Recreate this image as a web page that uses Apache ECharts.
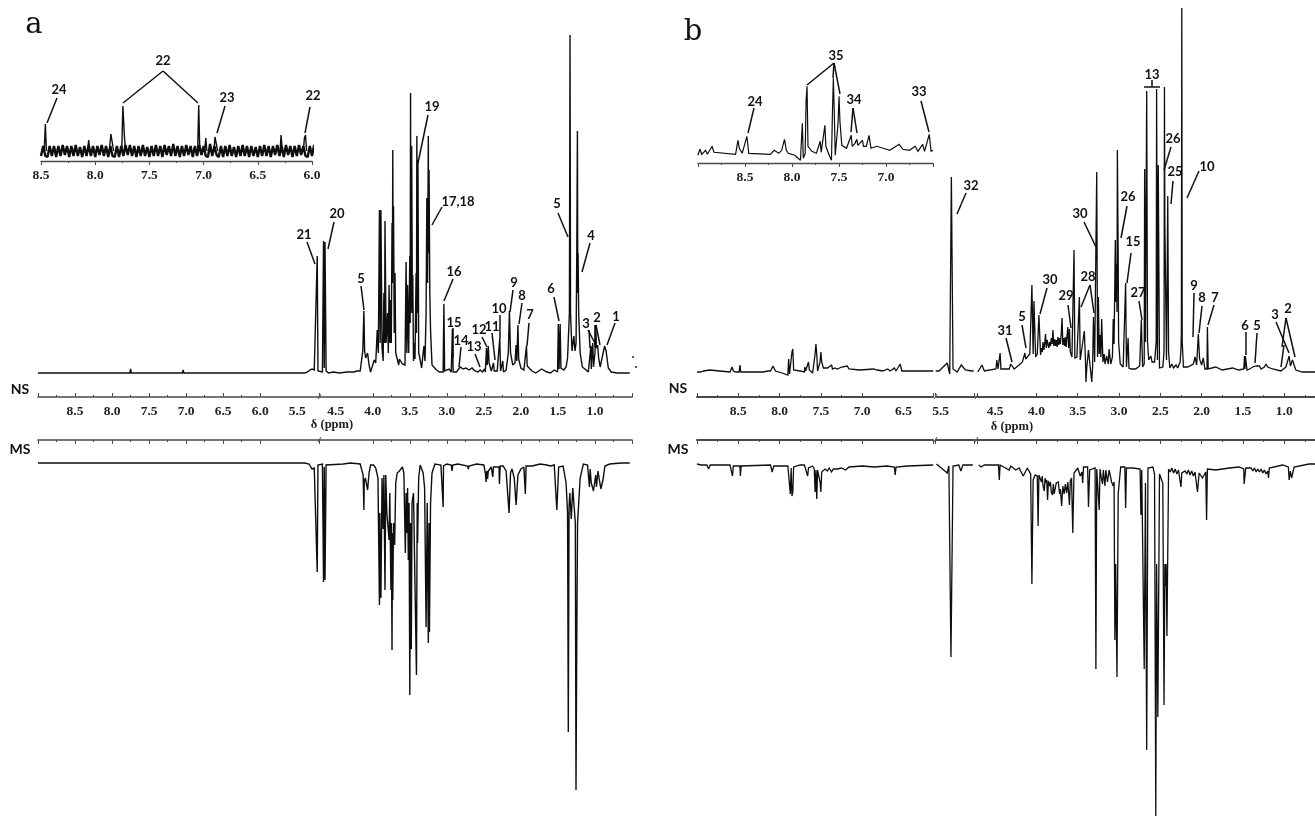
<!DOCTYPE html>
<html><head><meta charset="utf-8">
<style>html,body{margin:0;padding:0;background:#fff;overflow:hidden;width:1315px;height:817px}#c{width:1340px;height:817px}</style>
<script src="https://cdn.jsdelivr.net/npm/echarts@6/dist/echarts.min.js"></script>
</head><body><div id="c"></div>
<script>
// Tick labels (ppm)
const mainTicks=[8.5,8,7.5,7,6.5,6,5.5,4.5,4,3.5,3,2.5,2,1.5,1];
const mainTicksB=[8.5,8,7.5,7,6.5,5.5,4.5,4,3.5,3,2.5,2,1.5,1];
const insetTicksA=[8.5,8,7.5,7,6.5,6];
const insetTicksB=[8.5,8,7.5,7];
const G=NaN;
// Panel a, normal serum (NS): [ppm, intensity]
const aNS=[[9,0],[8.7,0],[8.51,0],[8.5,1],[8.49,0],[8.2,0],[7.76,0],[7.75,4],[7.74,0],[7.36,0],[7.05,0],[7.04,3],[7.03,0],[6.5,0],[6,0],[5.6,0],[5.4,0],[5.36,1],[5.33,3],[5.3,4],[5.27,3],[5.245,3],[5.23,117],[5.22,2],[5.2,1],[4.72,1],[4.68,1],[4.665,132],[4.655,5],[4.645,131],[4.63,2],[4.6,0],[4.53,1],[4.45,0],[4.35,1],[4.25,1],[4.24,3],[4.22,2],[4.2,1],[4.17,2],[4.135,22],[4.12,62],[4.11,22],[4.095,15],[4.07,20],[4.05,8],[4.03,1],[3.98,13],[3.96,10],[3.94,43],[3.925,20],[3.91,163],[3.9,30],[3.89,163],[3.875,25],[3.86,12],[3.85,80],[3.84,30],[3.835,152],[3.82,30],[3.8,60],[3.79,20],[3.78,88],[3.77,30],[3.76,73],[3.75,30],[3.74,150],[3.735,90],[3.73,223],[3.725,100],[3.72,167],[3.71,40],[3.7,100],[3.69,20],[3.67,18],[3.65,8],[3.64,14],[3.62,13],[3.6,9],[3.58,10],[3.565,8],[3.55,111],[3.54,20],[3.53,88],[3.515,20],[3.5,117],[3.495,50],[3.49,280],[3.485,60],[3.475,227],[3.465,60],[3.46,98],[3.45,12],[3.44,30],[3.43,14],[3.415,100],[3.41,40],[3.405,237],[3.395,60],[3.39,213],[3.38,20],[3.37,17],[3.34,5],[3.31,27],[3.295,12],[3.28,60],[3.27,175],[3.26,90],[3.25,237],[3.245,120],[3.24,203],[3.23,80],[3.22,43],[3.2,8],[3.18,6],[3.14,3],[3.1,1],[3.05,1],[3.04,69],[3.03,2],[2.97,4],[2.94,1],[2.925,44],[2.915,1],[2.87,1],[2.82,6],[2.78,4],[2.74,5],[2.7,3],[2.66,5],[2.62,2],[2.58,1],[2.55,3],[2.52,1],[2.49,4],[2.48,1],[2.465,25],[2.455,8],[2.44,27],[2.43,10],[2.4,2],[2.37,10],[2.36,2],[2.32,2],[2.285,35],[2.275,2],[2.245,12],[2.235,1],[2.2,3],[2.17,20],[2.155,62],[2.14,20],[2.11,8],[2.08,10],[2.065,28],[2.055,12],[2.04,48],[2.03,14],[2,5],[1.96,3],[1.925,27],[1.915,7],[1.89,7],[1.85,2],[1.8,0],[1.72,4],[1.65,1],[1.6,0],[1.55,3],[1.505,1],[1.495,49],[1.485,4],[1.47,49],[1.46,5],[1.42,3],[1.39,6],[1.37,15],[1.345,60],[1.337,338],[1.33,60],[1.31,22],[1.285,37],[1.27,22],[1.255,30],[1.245,125],[1.237,242],[1.232,80],[1.228,120],[1.22,60],[1.2,20],[1.17,6],[1.12,3],[1.09,1],[1.065,2],[1.055,27],[1.05,4],[1.04,20],[1.03,30],[1.02,6],[1,20],[0.99,48],[0.98,25],[0.965,28],[0.95,15],[0.93,6],[0.89,20],[0.87,27],[0.85,22],[0.82,5],[0.78,1],[0.7,0],[0.53,0]];
// Panel a, malignant serum (MS)
const aMS=[[9,0],[8.51,0],[8.5,-2],[8.49,0],[7.76,0],[7.75,-2],[7.74,0],[7.05,0],[7.04,-2],[7.03,0],[6.3,0],[6.29,-1],[5.4,0],[5.34,-1],[5.3,-6],[5.27,-5],[5.245,-4],[5.23,-109],[5.22,-2],[5.2,-1],[4.72,-1],[4.68,-1],[4.665,-119],[4.655,-4],[4.645,-117],[4.63,-2],[4.4,-1],[4.3,0],[4.17,-1],[4.13,-12],[4.12,-47],[4.115,-18],[4.1,-15],[4.07,-27],[4.05,-10],[4.03,-2],[3.99,-2],[3.96,-5],[3.93,-15],[3.91,-142],[3.905,-50],[3.89,-135],[3.875,-15],[3.86,-66],[3.85,-12],[3.835,-127],[3.825,-12],[3.81,-50],[3.78,-77],[3.77,-30],[3.755,-127],[3.75,-60],[3.74,-187],[3.735,-70],[3.73,-137],[3.72,-60],[3.705,-82],[3.69,-20],[3.67,-10],[3.64,-8],[3.62,-6],[3.6,-4],[3.58,-10],[3.56,-90],[3.55,-30],[3.54,-70],[3.53,-25],[3.52,-97],[3.51,-40],[3.5,-232],[3.49,-60],[3.48,-186],[3.47,-40],[3.45,-30],[3.43,-30],[3.41,-212],[3.4,-40],[3.395,-80],[3.38,-15],[3.36,-2],[3.32,-10],[3.3,-25],[3.28,-164],[3.265,-40],[3.25,-180],[3.24,-60],[3.235,-169],[3.22,-40],[3.2,-10],[3.16,-1],[3.08,-2],[3.055,-3],[3.05,-44],[3.045,-3],[3,-1],[2.94,-2],[2.93,-8],[2.92,-2],[2.85,-1],[2.72,-3],[2.71,-6],[2.7,-3],[2.6,-1],[2.5,-2],[2.48,-10],[2.47,-19],[2.46,-8],[2.45,-16],[2.44,-8],[2.4,-4],[2.38,-14],[2.37,-4],[2.33,-4],[2.295,-4],[2.29,-21],[2.28,-3],[2.24,-3],[2.2,-8],[2.16,-50],[2.14,-10],[2.12,-6],[2.09,-15],[2.065,-42],[2.04,-12],[2,-6],[1.96,-4],[1.945,-3],[1.94,-31],[1.93,-3],[1.85,-3],[1.74,-1],[1.65,-2],[1.6,-3],[1.55,-2],[1.525,-3],[1.515,-47],[1.505,-47],[1.49,-4],[1.43,-3],[1.39,-20],[1.37,-50],[1.36,-269],[1.35,-45],[1.34,-30],[1.32,-56],[1.3,-25],[1.28,-24],[1.265,-60],[1.256,-327],[1.245,-168],[1.235,-60],[1.2,-15],[1.157,-1],[1.1,-2],[1.08,-4],[1.075,-24],[1.065,-6],[1.05,-20],[1.035,-24],[1.02,-28],[1,-29],[0.99,-12],[0.98,-24],[0.96,-8],[0.92,-26],[0.91,-28],[0.89,-16],[0.865,-3],[0.8,-1],[0.65,0],[0.53,0]];
// Panel a, aromatic inset: noise intensities at 0.02 ppm steps from 8.5 down to 6.0
const aInset=[-5,5,-5,-6,5,-5,5,-6,5,-5,6,-4,5,-6,5,-5,6,-5,4,-6,5,-5,6,-5,5,-6,5,-4,6,-5,5,-6,5,-5,-6,5,-6,5,-5,6,-4,6,-5,5,-6,5,-5,6,-5,4,-6,5,-5,6,-5,5,-6,6,-4,5,-5,7,-5,5,-6,5,-5,6,-4,5,-6,5,-5,6,-4,5,-5,-6,7,-5,5,-4,-6,5,-6,5,-5,6,-5,4,-6,5,-5,6,-5,5,-6,5,-5,4,-6,5,-5,6,-5,5,-6,5,-4,6,-5,5,-6,6,-4,5,-6,5,-5,6,-4,5,-5,-6,5,-5,6,-5];
// Panel a, inset sharp peaks
const aInsetPeaks=[[8.47,0],[8.46,27],[8.45,0],[G,G],[8.07,0],[8.06,11],[8.05,0],[G,G],[7.87,0],[7.855,17],[7.845,15],[7.83,0],[G,G],[7.755,0],[7.745,45],[7.73,14],[7.72,0],[G,G],[7.055,0],[7.045,46],[7.035,0],[G,G],[6.99,0],[6.98,13],[6.97,0],[G,G],[6.905,0],[6.895,14],[6.88,14],[6.87,0],[G,G],[6.295,0],[6.285,16],[6.275,0],[G,G],[6.08,0],[6.07,13],[6.06,16],[6.05,0]];
// Panel b, NS
const bNS=[[9,0],[8.98,1],[8.96,0],[8.92,1],[8.9,0],[8.85,2],[8.83,0],[8.6,0],[8.575,5],[8.56,1],[8.55,2],[8.53,0],[8.49,0],[8.48,7],[8.47,0],[8.2,0],[8.14,1],[8.11,1],[8.08,6],[8.05,1],[7.97,-1],[7.9,-3],[7.89,13],[7.88,-2],[7.86,0],[7.85,20],[7.84,23],[7.83,2],[7.75,1],[7.7,0],[7.695,5],[7.685,1],[7.65,10],[7.64,2],[7.6,-1],[7.58,-3],[7.57,18],[7.56,28],[7.55,18],[7.54,1],[7.51,10],[7.5,20],[7.49,10],[7.47,4],[7.42,4],[7.37,7],[7.36,3],[7.33,4],[7.31,5],[7.3,3],[7.25,5],[7.24,3],[7.18,6],[7.16,3],[7.03,2],[6.86,3],[6.82,2],[6.75,1],[6.69,3],[6.66,1],[6.61,4],[6.59,1],[6.54,8],[6.52,1],[6.4,1],[6.3,1],[6.14,1],[G,G],[5.56,1],[5.52,1],[5.42,9],[5.39,-2],[5.37,195],[5.35,3],[5.3,0],[5.25,7],[5.2,2],[5.12,1],[5.1,1],[G,G],[4.71,0],[4.69,0],[4.66,7],[4.63,1],[4.49,3],[4.48,12],[4.465,3],[4.44,19],[4.43,3],[4.33,3],[4.31,8],[4.27,3],[4.21,7],[4.17,10],[4.14,19],[4.13,13],[4.08,18],[4.055,87],[4.04,18],[4.03,71],[4.01,15],[3.99,18],[3.97,57],[3.95,17],[3.94,24],[3.93,20],[3.92,30],[3.91,22],[3.9,28],[3.89,38],[3.88,24],[3.87,32],[3.86,34],[3.85,24],[3.84,30],[3.83,26],[3.82,34],[3.81,28],[3.8,42],[3.79,26],[3.78,33],[3.77,26],[3.76,32],[3.75,25],[3.74,35],[3.73,27],[3.72,34],[3.71,28],[3.7,38],[3.69,54],[3.68,27],[3.67,34],[3.66,26],[3.65,35],[3.64,25],[3.63,36],[3.62,45],[3.61,24],[3.6,43],[3.59,20],[3.58,22],[3.57,15],[3.56,17],[3.545,122],[3.535,14],[3.51,15],[3.48,75],[3.47,12],[3.45,12],[3.42,41],[3.405,8],[3.4,-10],[3.39,5],[3.37,22],[3.35,6],[3.33,-10],[3.32,5],[3.31,55],[3.295,10],[3.27,200],[3.26,15],[3.25,75],[3.24,18],[3.23,37],[3.22,15],[3.21,53],[3.195,10],[3.18,18],[3.17,8],[3.15,16],[3.13,8],[3.12,23],[3.1,8],[3.08,15],[3.07,53],[3.06,28],[3.045,132],[3.04,70],[3.03,108],[3.025,60],[3.02,222],[3.01,115],[3.005,30],[2.985,8],[2.95,5],[2.93,6],[2.92,89],[2.91,5],[2.895,5],[2.89,34],[2.88,4],[2.85,3],[2.8,3],[2.75,6],[2.73,52],[2.715,5],[2.695,8],[2.69,203],[2.68,30],[2.665,281],[2.655,30],[2.64,12],[2.615,16],[2.6,10],[2.57,10],[2.55,30],[2.545,283],[2.535,12],[2.525,207],[2.51,4],[2.47,5],[2.455,20],[2.45,285],[2.445,147],[2.435,147],[2.425,12],[2.41,176],[2.4,20],[2.385,4],[2.36,8],[2.34,4],[2.31,7],[2.29,4],[2.26,10],[2.25,23],[2.245,40],[2.24,364],[2.235,30],[2.22,5],[2.17,5],[2.1,8],[2.08,15],[2.06,7],[2.04,38],[2.025,13],[2,7],[1.98,14],[1.96,3],[1.935,3],[1.93,45],[1.92,3],[1.83,5],[1.75,2],[1.625,4],[1.55,2],[1.49,3],[1.48,16],[1.475,3],[1.47,16],[1.45,2],[1.42,3],[1.38,5],[1.36,3],[1.34,6],[1.32,4],[1.3,6],[1.28,3],[1.24,5],[1.22,8],[1.2,5],[1.14,3],[1.04,1],[0.98,5],[0.94,16],[0.925,6],[0.9,12],[0.86,2],[0.78,0],[0.5,0]];
// Panel b, MS
const bMS=[[9,0],[8.95,-1],[8.88,-1],[8.86,-5],[8.84,-1],[8.6,-1],[8.58,-2],[8.57,-12],[8.56,-2],[8.48,-2],[8.475,-12],[8.465,-2],[8.11,-1],[8.09,-8],[8.07,-2],[7.9,-2],[7.88,-3],[7.87,-30],[7.86,-4],[7.85,-32],[7.84,-28],[7.83,-3],[7.75,-1],[7.7,-1],[7.66,-12],[7.65,-4],[7.6,-2],[7.58,-5],[7.57,-28],[7.56,-6],[7.55,-35],[7.54,-6],[7.51,-18],[7.5,-28],[7.49,-8],[7.45,-5],[7.42,-7],[7.4,-4],[7.37,-8],[7.35,-5],[7.3,-5],[7.25,-4],[7.2,-6],[7.16,-3],[7,-2],[6.85,-3],[6.7,-2],[6.61,-3],[6.6,-11],[6.59,-3],[6.45,-2],[6.14,-1],[G,G],[5.55,0],[5.42,-9],[5.4,-2],[5.375,-193],[5.35,-2],[5.28,-1],[5.255,-7],[5.23,-1],[5.11,-1],[G,G],[4.7,-1],[4.67,-3],[4.63,-1],[4.49,-1],[4.46,-1],[4.45,-16],[4.44,-1],[4.43,-2],[4.33,-6],[4.31,-2],[4.25,-6],[4.21,-4],[4.16,-12],[4.11,-4],[4.07,-10],[4.055,-120],[4.04,-16],[4.015,-11],[3.99,-12],[3.98,-62],[3.97,-11],[3.94,-18],[3.93,-12],[3.92,-22],[3.905,-27],[3.895,-14],[3.885,-19],[3.875,-16],[3.865,-36],[3.855,-17],[3.84,-22],[3.83,-18],[3.82,-28],[3.805,-31],[3.795,-20],[3.785,-30],[3.77,-29],[3.76,-19],[3.745,-21],[3.735,-18],[3.72,-30],[3.71,-25],[3.695,-42],[3.68,-22],[3.665,-30],[3.65,-20],[3.635,-29],[3.62,-18],[3.61,-20],[3.6,-41],[3.59,-17],[3.575,-14],[3.56,-69],[3.545,-9],[3.5,-4],[3.47,-12],[3.45,-8],[3.44,-19],[3.43,-3],[3.38,-3],[3.37,-43],[3.355,-6],[3.29,-4],[3.28,-205],[3.27,-5],[3.25,-6],[3.24,-46],[3.23,-5],[3.21,-16],[3.2,-20],[3.19,-6],[3.18,-8],[3.17,-22],[3.16,-6],[3.15,-8],[3.14,-18],[3.13,-20],[3.12,-6],[3.11,-8],[3.09,-18],[3.07,-22],[3.06,-18],[3.05,-176],[3.04,-100],[3.025,-213],[3.01,-30],[2.98,-3],[2.93,-3],[2.92,-44],[2.91,-4],[2.83,-4],[2.745,-5],[2.735,-51],[2.725,-6],[2.715,-5],[2.695,-205],[2.68,-19],[2.665,-286],[2.65,-4],[2.59,-3],[2.57,-10],[2.555,-352],[2.545,-100],[2.53,-253],[2.51,-10],[2.47,-19],[2.455,-241],[2.445,-100],[2.44,-122],[2.43,-100],[2.42,-172],[2.4,-5],[2.38,-8],[2.36,-4],[2.34,-9],[2.32,-5],[2.3,-10],[2.28,-6],[2.26,-8],[2.25,-23],[2.24,-9],[2.2,-7],[2.18,-10],[2.16,-6],[2.14,-11],[2.12,-7],[2.1,-12],[2.08,-8],[2.06,-10],[2.05,-28],[2.03,-9],[1.99,-14],[1.95,-8],[1.94,-56],[1.93,-5],[1.83,-6],[1.665,-4],[1.545,-3],[1.49,-5],[1.485,-20],[1.475,-20],[1.465,-4],[1.44,-4],[1.42,-6],[1.4,-4],[1.38,-7],[1.36,-4],[1.34,-8],[1.32,-5],[1.3,-8],[1.28,-5],[1.26,-9],[1.24,-6],[1.22,-10],[1.2,-7],[1.19,-14],[1.18,-4],[1.02,-1],[0.95,-3],[0.94,-16],[0.925,-7],[0.91,-14],[0.88,-3],[0.7,0],[0.5,0]];
// Panel b, aromatic inset
const bInset=[[9,-2],[8.98,4],[8.96,-1],[8.92,3],[8.9,-1],[8.85,7],[8.83,1],[8.6,-1],[8.575,13],[8.56,5],[8.55,7],[8.53,0],[8.48,17],[8.46,0],[8.23,-1],[8.19,3],[8.14,0],[8.11,3],[8.08,14],[8.06,3],[8.04,0],[7.97,-2],[7.91,-7],[7.9,-7],[7.89,30],[7.88,-5],[7.86,0],[7.85,53],[7.84,67],[7.83,7],[7.79,2],[7.74,0],[7.7,12],[7.69,1],[7.65,28],[7.64,7],[7.6,-3],[7.58,-7],[7.57,40],[7.56,75],[7.55,40],[7.54,-2],[7.51,30],[7.5,57],[7.49,32],[7.47,8],[7.42,5],[7.37,18],[7.36,7],[7.33,10],[7.31,14],[7.3,8],[7.25,13],[7.24,7],[7.21,7],[7.18,18],[7.16,5],[7.1,7],[7.03,5],[6.96,3],[6.86,9],[6.82,4],[6.75,3],[6.69,7],[6.66,2],[6.61,9],[6.59,2],[6.54,19],[6.52,2],[6.5,3]];
const aInsetPts=aInset.map((v,i)=>[8.5-i*0.02,v]);

// Annotation layout (pixels): [text, x, y, leader segments x1,y1,x2,y2 ...]
const notes=[
['22',163,61,163,71,123,103,163,71,198,103],['24',59,90,57,98,47,123],['23',227,98,225,106,217,133],['22',313,96,310,107,305,133],
['19',432,107,428,115,418,163],['17,18',458,202,442,207,432,225],['20',337,214,334,222,328,249],['21',304,235,307,242,315,264],['5',361,279,361,286,364,310],['16',454,272,453,279,444,301],['15',454,323,453,328,453,358],['14',461,341,461,347,459,367],['13',474,347,475,354,480,367],['12',479,330,482,337,487,347],['11',492,327,492,333,495,360],['10',499,309,500,315,500,338],['9',514,283,513,290,510,312],['8',522,296,522,303,519,324],['7',530,315,529,323,527,346],['6',551,289,554,297,559,321],['5',557,204,558,213,568,237],['4',591,236,590,243,582,272],['3',586,324,588,330,597,347,589,330,590,348],['2',597,318,595,325,595,347,596,325,600,345],['1',616,317,615,323,607,345],
['35',836,56,834,63,807,85,834,63,840,94,834,63,833,78],['24',755,102,754,108,748,133],['34',854,100,853,108,851,132,853,108,857,133],['33',919,92,921,101,929,132],
['32',971,186,966,193,957,214],['31',1005,331,1006,338,1012,362],['5',1022,317,1022,325,1026,348],['30',1050,280,1047,288,1040,314],['29',1066,296,1068,305,1071,328],['30',1080,214,1084,222,1096,247],['28',1088,277,1090,285,1081,307,1090,285,1094,313],['26',1128,197,1127,206,1121,238],['15',1133,242,1131,253,1127,283],['27',1138,293,1139,301,1142,320],['13',1152,75,1152,80,1152,87,1144,87,1160,87],['26',1173,139,1171,147,1164,170],['25',1175,172,1173,181,1171,204],['10',1207,167,1199,171,1187,198],['9',1194,286,1194,293,1193,337],['8',1202,298,1202,306,1199,333],['7',1215,298,1214,305,1208,325],['6',1245,326,1246,332,1246,355],['5',1257,326,1257,333,1255,363],['3',1275,315,1276,322,1289,353,1284,345,1281,367],['2',1288,309,1286,318,1282,347,1286,318,1295,357]
];
const breakMarks=[[320,397],[320,440],[936,397],[936,440],[977,397],[977,440]];
const INK='#0e0e0e',AXIS='#4a4a4a';
const serif='"Liberation Serif",serif', sans='Lato,"Open Sans",sans-serif';
function xa(gi,min,max,labels,pos,breaks,inside,w){
  return {type:'value',gridIndex:gi,inverse:true,min,max,interval:0.5,position:pos,
    breaks:breaks||[],breakArea:{show:false,expandOnClick:false},
    axisLine:{show:true,onZero:false,lineStyle:{color:AXIS,width:w}},
    axisTick:{show:true,inside:!!inside,length:4,lineStyle:{color:AXIS,width:1}},
    minorTick:{show:true,splitNumber:2,length:2,lineStyle:{color:AXIS,width:1}},
    splitLine:{show:false},minorSplitLine:{show:false},
    axisLabel:labels?{show:true,customValues:labels,margin:8,hideOverlap:false,color:'#222',fontFamily:serif,fontWeight:'bold',fontSize:13.5,formatter:v=>v.toFixed(1)}:{show:false}};
}
const brA=[{start:4.72,end:5.2,gap:0}];
const brB=[{start:4.72,end:5.09,gap:0.03},{start:5.56,end:6.14,gap:0.03}];
const grids=[
 {left:38,width:594,top:0,height:397},
 {left:38,width:594,top:440,height:377},
 {left:41,width:271,top:100,height:61},
 {left:697,width:628.5,top:0,height:397},
 {left:697,width:628.5,top:440,height:377},
 {left:698,width:235,top:70,height:93},
 {left:41,width:271,top:100,height:61}];
const xAxes=[
 xa(0,0.5,9,mainTicks,'bottom',brA,true,1.6),
 xa(1,0.5,9,null,'top',brA,true,1.6),
 xa(2,6,8.5,insetTicksA,'bottom',null,false,1.4),
 xa(3,0.5,9,mainTicksB,'bottom',brB,true,2),
 xa(4,0.5,9,null,'top',brB,true,2),
 xa(5,6.5,9,insetTicksB,'bottom',null,false,1.4),
 Object.assign(xa(6,6,8.5,null,'bottom',null,false,1),{show:false})];
const yr=[[-24,373],[-354,23],[-10,51],[-25,372],[-353,24],[-9.7,83.3],[-10,51]];
const yAxes=yr.map((r,i)=>({type:'value',gridIndex:i,min:r[0],max:r[1],show:false}));
const widths=[1.4,1.4,2.4,1.3,1.3,1.2,1.4];
const sers=[aNS,aMS,aInsetPts,bNS,bMS,bInset,aInsetPeaks].map((d,i)=>({type:'line',xAxisIndex:i,yAxisIndex:i,data:d,showSymbol:false,symbol:'none',clip:false,connectNulls:false,silent:true,lineStyle:{color:INK,width:widths[i],join:i===2?'bevel':'miter',miterLimit:2},animation:false}));
const gfx=[];
const sty={stroke:'#111',lineWidth:1.5};
notes.forEach(n=>{
  gfx.push({type:'text',x:n[1],y:n[2],silent:true,style:{text:n[0],font:'bold 13px '+sans,fill:'#111',align:'center',verticalAlign:'middle'}});
  for(let i=3;i+3<n.length;i+=4){
    gfx.push({type:'line',silent:true,shape:{x1:n[i],y1:n[i+1],x2:n[i+2],y2:n[i+3]},style:sty});
  }
});
breakMarks.forEach(b=>{
  gfx.push({type:'rect',silent:true,shape:{x:b[0]-1,y:b[1]-2,width:2,height:4},style:{fill:'#fff'}});
  gfx.push({type:'line',silent:true,shape:{x1:b[0]-2,y1:b[1]+2,x2:b[0]+1,y2:b[1]-3},style:{stroke:AXIS,lineWidth:1}});
});
[['a',34,25],['b',693,32]].forEach(t=>gfx.push({type:'text',x:t[1],y:t[2],silent:true,style:{text:t[0],font:'29px "DejaVu Serif",serif',fill:'#111',align:'center',verticalAlign:'middle'}}));
[['NS',20,389],['MS',20,449],['NS',678,388],['MS',678,449]].forEach(t=>gfx.push({type:'text',x:t[1],y:t[2],silent:true,style:{text:t[0],font:'bold 14px '+sans,fill:'#111',align:'center',verticalAlign:'middle'}}));
[[332,425],[1012,427]].forEach(t=>gfx.push({type:'text',x:t[0],y:t[1],silent:true,style:{text:'δ (ppm)',font:'bold 12.5px '+serif,fill:'#222',align:'center',verticalAlign:'middle'}}));
[[633,357],[636,367]].forEach(t=>gfx.push({type:'circle',silent:true,shape:{cx:t[0],cy:t[1],r:1},style:{fill:'#222'}}));
const chart=echarts.init(document.getElementById('c'),null,{renderer:'canvas',width:1340,height:817});
chart.setOption({animation:false,backgroundColor:'#fff',grid:grids,xAxis:xAxes,yAxis:yAxes,series:sers,graphic:{elements:gfx}});
</script></body></html>
